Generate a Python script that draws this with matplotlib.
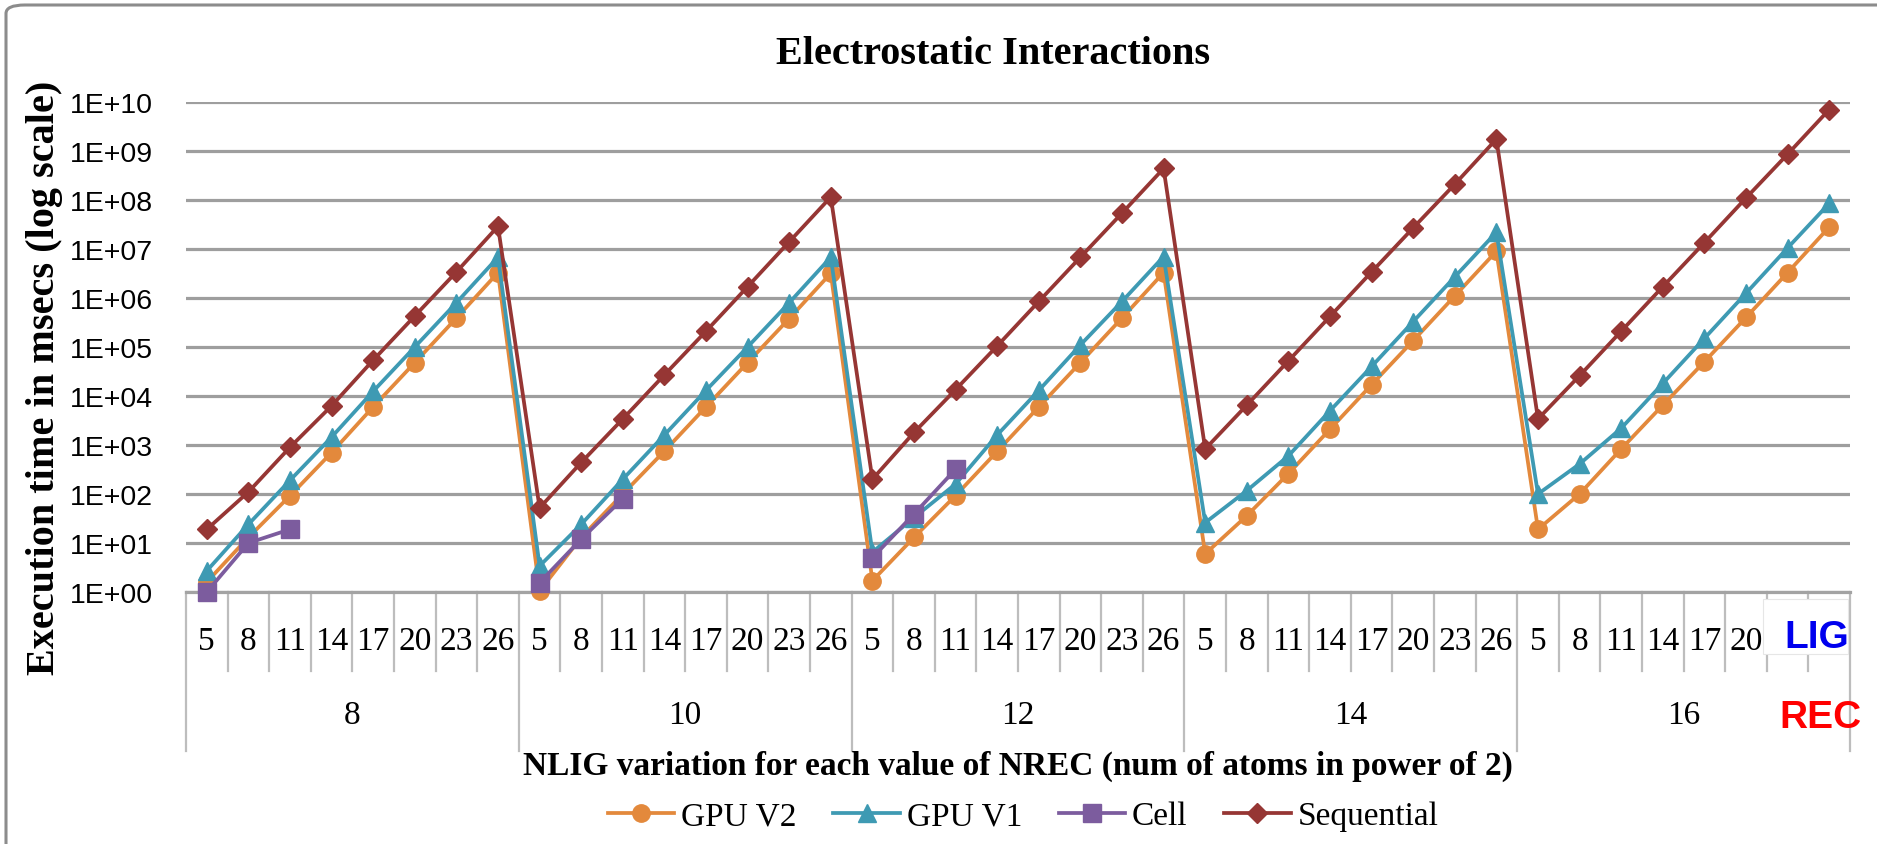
import numpy as np
import matplotlib
matplotlib.use("Agg")
import matplotlib.pyplot as plt
from matplotlib import font_manager
from matplotlib.patches import Rectangle, FancyBboxPatch

# ---------------- data ----------------
NREC_GROUPS = [8, 10, 12, 14, 16]
LIG_TICKS = [5, 8, 11, 14, 17, 20, 23, 26]
HIDDEN_LAST = [23, 26]   # covered by the LIG box in the last group

gpu_v2 = [1.6, 13, 92, 700, 6.0e3, 4.8e4, 3.9e5, 3.3e6,
          1.05, 13, 100, 750, 6.0e3, 4.8e4, 3.8e5, 3.2e6,
          1.7, 13, 93, 740, 6.0e3, 4.8e4, 3.9e5, 3.3e6,
          6.0, 36, 260, 2.1e3, 1.7e4, 1.35e5, 1.1e6, 9.0e6,
          19, 100, 830, 6.5e3, 5.0e4, 4.0e5, 3.3e6, 2.8e7]
gpu_v1 = [2.7, 24, 190, 1.45e3, 1.25e4, 1.0e5, 8.0e5, 6.8e6,
          3.4, 24, 200, 1.6e3, 1.3e4, 1.0e5, 8.0e5, 6.8e6,
          6.5, 33, 160, 1.6e3, 1.3e4, 1.1e5, 8.5e5, 7.0e6,
          26, 117, 600, 5.0e3, 4.0e4, 3.3e5, 2.7e6, 2.2e7,
          100, 410, 2.2e3, 1.8e4, 1.5e5, 1.25e6, 1.05e7, 8.5e7]
cell = [1.0, 10, 19, np.nan, np.nan, np.nan, np.nan, np.nan,
        1.55, 12, 80, np.nan, np.nan, np.nan, np.nan, np.nan,
        5.0, 39, 320, np.nan, np.nan, np.nan, np.nan, np.nan,
        np.nan, np.nan, np.nan, np.nan, np.nan, np.nan, np.nan, np.nan,
        np.nan, np.nan, np.nan, np.nan, np.nan, np.nan, np.nan, np.nan]
sequential = [19, 110, 900, 6.3e3, 5.4e4, 4.3e5, 3.4e6, 2.9e7,
              52, 440, 3.4e3, 2.7e4, 2.1e5, 1.7e6, 1.4e7, 1.15e8,
              200, 1.8e3, 1.35e4, 1.05e5, 8.5e5, 6.8e6, 5.4e7, 4.4e8,
              830, 6.5e3, 5.2e4, 4.2e5, 3.4e6, 2.7e7, 2.1e8, 1.75e9,
              3.4e3, 2.6e4, 2.1e5, 1.7e6, 1.35e7, 1.1e8, 8.6e8, 7.0e9]
SERIES_NAMES = ["GPU V2", "GPU V1", "Cell", "Sequential"]
Y_DECADES = list(range(0, 11))

# ---------------- fonts ----------------
avail = {f.name for f in font_manager.fontManager.ttflist}
SERIF = "Liberation Serif" if "Liberation Serif" in avail else "DejaVu Serif"
NARROW = "Liberation Sans Narrow" if "Liberation Sans Narrow" in avail else "Liberation Sans"
SANS = "Liberation Sans" if "Liberation Sans" in avail else "DejaVu Sans"
plt.rcParams["font.family"] = [SERIF, "DejaVu Serif"]

W, H = 1877, 845
fig = plt.figure(figsize=(W / 100, H / 100), dpi=100)
ax = fig.add_axes([186 / W, 1 - 593 / H, 1664 / W, 490 / H])

n_cat = len(NREC_GROUPS) * len(LIG_TICKS)
x = np.arange(n_cat)

styles = [
    dict(color="#E3893C", marker="o", ms=12.5),
    dict(color="#3E9AB3", marker="^", ms=13.5),
    dict(color="#7C5C9E", marker="s", ms=13),
    dict(color="#963634", marker="D", ms=10.5),
]
handles = []
for vals, name, st in zip([gpu_v2, gpu_v1, cell, sequential], SERIES_NAMES, styles):
    h, = ax.plot(x, vals, color=st["color"], lw=2.7, marker=st["marker"],
                 ms=st["ms"], mfc=st["color"], mec=st["color"], label=name,
                 clip_on=False, zorder=3)
    handles.append(h)

ax.set_yscale("log")
ax.set_ylim(1, 1e10)
ax.set_xlim(-0.5, n_cat - 0.5)
ax.set_yticks([10.0 ** k for k in Y_DECADES])
ax.set_yticklabels([f"1E+{k:02d}" for k in Y_DECADES], fontsize=20.5,
                   family=[NARROW, "DejaVu Sans"])
ax.yaxis.set_minor_locator(matplotlib.ticker.NullLocator())
ax.tick_params(axis="y", length=0, pad=24)
ax.set_xticks([])
ax.yaxis.grid(True, color="#9e9e9e", lw=2.3, zorder=0)
ax.set_axisbelow(True)
for s in ["left", "right", "top"]:
    ax.spines[s].set_visible(False)
ax.spines["bottom"].set_color("#a3a3a3")
ax.spines["bottom"].set_linewidth(2.3)

# category axis (two-level)
tr = ax.get_xaxis_transform()
sep_col = "#bdbdbd"
n_lig = len(LIG_TICKS)
for k in range(n_cat + 1):
    xb = k - 0.5
    if k % n_lig == 0:
        ax.plot([xb, xb], [0, -0.3245], transform=tr, color=sep_col, lw=1.6, clip_on=False)
    else:
        ax.plot([xb, xb], [0, -0.161], transform=tr, color=sep_col, lw=1.6, clip_on=False)

for gi, g in enumerate(NREC_GROUPS):
    for li, lig in enumerate(LIG_TICKS):
        if gi == len(NREC_GROUPS) - 1 and lig in HIDDEN_LAST:
            continue
        ax.text(gi * n_lig + li, -0.1, str(lig), transform=tr, ha="center", va="center",
                fontsize=24, family=SERIF)
    ax.text(gi * n_lig + (n_lig - 1) / 2, -0.251, str(g), transform=tr, ha="center",
            va="center", fontsize=24, family=SERIF)

# white box with LIG / REC labels
ax.add_patch(Rectangle((n_cat - 2.6, -0.127), 2.05, 0.113, transform=tr,
                       facecolor="white", edgecolor="#e6e6e6", lw=0.8, clip_on=False, zorder=5))
ax.text(n_cat - 1.3, -0.092, "LIG", transform=tr, ha="center", va="center",
        fontsize=28, fontweight="bold", color="#0000EE", family=SANS, zorder=6)
ax.text(n_cat - 1.2, -0.255, "REC", transform=tr, ha="center", va="center",
        fontsize=28, fontweight="bold", color="#FF0000", family=SANS, zorder=6)

# titles and labels
fig.text(993 / W, 1 - 54 / H, "Electrostatic Interactions", ha="center", va="center",
         fontsize=29, fontweight="bold", family=SERIF)
fig.text(1018 / W, 1 - 766 / H,
         "NLIG variation for each value of NREC (num of atoms in power of 2)",
         ha="center", va="center", fontsize=24, fontweight="bold", family=SERIF)
fig.text(45 / W, 1 - 378 / H, "Execution time in msecs (log scale)", rotation=90,
         ha="center", va="center", fontsize=29, fontweight="bold", family=SERIF)

fig.legend(handles, SERIES_NAMES, loc="center", bbox_to_anchor=(1023 / W, 1 - 817 / H),
           ncol=4, frameon=False, prop={"family": SERIF, "size": 24},
           handlelength=2.0, handletextpad=0.2, columnspacing=1.1)

# outer border
fig.patches.append(FancyBboxPatch((6 / W, -0.05), 1.05, 1 - 6 / H + 0.05,
                                  boxstyle="round,pad=0,rounding_size=0.01",
                                  transform=fig.transFigure, facecolor="none",
                                  edgecolor="#8c8c8c", lw=2.2))

fig.savefig("out.png", dpi=100)
